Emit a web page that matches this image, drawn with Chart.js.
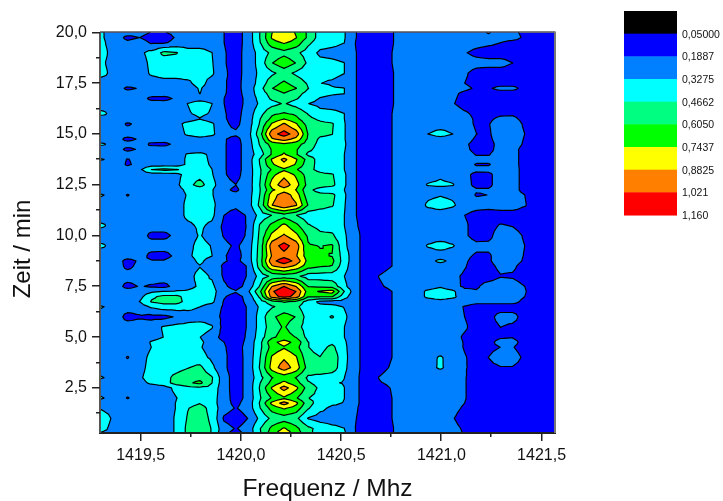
<!DOCTYPE html>
<html>
<head>
<meta charset="utf-8">
<style>
  html, body { margin: 0; padding: 0; background: #fff; }
  #wrap { width: 723px; height: 501px; }
</style>
<script src="https://cdn.jsdelivr.net/npm/chart.js@4"></script>
</head>
<body>
<div id="wrap"><canvas id="contourChart" width="723" height="501"></canvas></div>
<script>
// Frequency of each grid column (MHz)
const freqs = [1419.255,1419.315,1419.375,1419.435,1419.495,1419.555,1419.615,1419.675,1419.735,1419.795,
  1419.855,1419.915,1419.975,1420.035,1420.095,1420.155,1420.215,1420.275,1420.335,1420.395,
  1420.455,1420.515,1420.575,1420.635,1420.695,1420.755,1420.815,1420.875,1420.935,1420.995,
  1421.055,1421.115,1421.175,1421.235,1421.295,1421.355,1421.415,1421.475,1421.535,1421.595];

// Time of each grid row (min)
const times = [20,19.75,19.5,19,18.5,18,17.5,17.25,17,16.75,16.5,16,15.75,15.5,15,14.75,14.5,14.25,14,13.75,13.5,13.25,13,12.5,12.25,12,
  11.5,11,10.5,10,9.5,9,8.75,8.5,8,7.5,7.25,7,6.75,6.5,6,5.5,5,4.75,4.5,4,3.5,3,2.75,2.5,2,1.75,1.5,1,0.5,0.25];

// Estimated amplitude x 100, one line per time
const amps = [
[40,33,26,26,24,18,18,22,26,26,26,19,13,24,47,74,84,73,58,40,38,34,19,12,12,18,26,26,26,26,26,26,24,18,24,24,14,10,12,12],
[40,33,26,15,19,12,12,20,26,26,26,19,13,24,47,76,86,75,58,40,38,34,19,12,12,18,26,26,26,26,26,26,25,22,26,26,16,11,12,12],
[40,34,26,22,26,17,17,23,26,26,26,19,13,24,46,69,76,69,50,39,37,33,18,12,12,18,26,26,26,26,26,26,24,22,19,13,12,12,12,12],
[40,36,26,26,30,37,50,48,38,38,33,20,14,24,38,50,56,50,40,30,28,26,19,12,12,19,26,26,26,26,26,20,15,12,12,12,12,12,12,12],
[40,34,26,26,27,36,38,38,38,38,34,20,14,24,38,60,70,60,44,37,36,33,19,12,12,19,26,26,26,26,26,26,24,24,24,19,12,12,12,24],
[40,36,26,26,26,35,38,38,38,38,35,21,14,24,36,44,52,44,38,36,36,33,19,12,12,18,26,26,26,26,26,21,14,12,12,12,12,12,12,12],
[30,26,26,26,26,26,28,28,30,38,27,20,15,24,38,55,63,55,45,33,31,28,19,12,12,18,26,26,26,26,26,19,14,13,13,13,12,12,12,12],
[26,26,26,16,20,26,26,26,26,34,26,20,15,24,42,60,68,61,47,39,34,33,19,12,12,18,26,26,26,26,26,22,17,17,23,23,14,12,12,12],
[26,26,26,26,26,26,26,26,26,33,26,20,14,24,40,52,60,52,42,36,34,33,19,12,12,18,26,26,26,26,22,16,12,12,12,12,12,12,12,12],
[26,26,26,26,26,15,14,21,26,26,26,19,13,23,37,49,54,48,39,32,30,29,19,12,12,18,26,26,26,26,21,15,12,12,12,12,12,12,12,12],
[26,26,26,26,26,26,26,26,33,40,33,19,13,23,35,42,48,41,33,29,28,27,19,12,12,18,26,26,26,26,20,14,12,12,12,12,12,12,12,12],
[40,35,26,26,26,26,26,26,31,36,31,20,14,25,42,58,62,58,46,37,36,33,19,12,12,19,26,26,26,26,26,21,16,13,16,17,13,12,12,12],
[26,26,26,26,26,26,26,26,26,32,26,20,15,25,46,64,74,64,50,44,40,33,19,12,12,19,26,26,26,26,26,23,17,16,22,22,15,12,12,12],
[26,26,26,17,23,26,26,28,37,42,35,21,16,25,48,76,90,76,54,50,48,34,19,12,12,19,26,26,26,26,26,24,17,18,26,26,17,12,12,12],
[26,26,26,26,26,26,26,26,35,40,36,22,21,27,55,97,108,96,60,50,47,34,19,12,12,19,26,26,33,38,33,26,19,17,26,26,19,12,12,24],
[26,26,26,14,21,26,26,26,26,28,26,20,15,26,50,86,94,84,58,44,42,34,19,12,12,19,26,26,26,28,26,24,17,16,25,26,18,12,12,12],
[40,34,26,26,26,16,15,22,26,26,26,20,14,25,48,66,72,66,54,42,42,35,19,12,12,19,26,26,26,26,26,21,15,14,24,26,17,12,12,12],
[26,26,26,15,21,26,26,26,26,26,26,20,14,25,44,62,70,62,50,41,40,34,19,12,12,19,26,26,26,26,26,22,15,15,24,24,14,12,12,12],
[26,26,26,26,26,26,26,26,34,36,30,20,14,25,40,62,76,62,44,40,38,33,19,12,12,19,26,26,26,26,26,24,18,18,24,24,14,12,12,12],
[40,33,26,18,24,26,26,26,35,38,30,20,14,25,48,76,92,76,55,40,38,33,19,12,12,19,26,26,26,26,26,26,22,22,24,24,14,12,12,12],
[26,26,26,17,23,26,26,26,35,38,31,20,14,25,47,72,85,73,52,42,38,33,19,12,12,19,26,26,26,26,26,24,18,18,24,24,14,12,12,12],
[26,26,26,26,30,47,50,48,42,40,33,20,14,25,45,62,72,62,50,43,38,33,19,12,12,19,26,26,26,26,26,25,22,22,25,25,14,12,12,12],
[26,26,26,26,26,26,26,28,38,42,34,20,15,25,45,70,84,72,54,50,48,35,19,12,12,19,26,26,26,30,26,23,15,16,25,25,14,12,12,12],
[26,26,26,26,26,26,26,29,42,52,38,22,19,25,47,80,97,80,56,52,50,35,19,12,12,19,26,26,34,36,34,23,16,16,25,25,14,12,12,24],
[26,26,26,26,26,26,26,27,36,38,34,21,17,25,46,72,82,74,50,42,38,33,19,12,12,19,26,26,26,26,26,24,20,20,25,25,14,12,12,12],
[40,33,26,18,26,26,26,26,34,38,34,22,22,26,47,82,96,82,52,50,50,35,19,12,12,19,26,26,30,32,30,25,18,19,26,26,19,12,12,12],
[26,26,26,26,26,26,26,26,36,38,37,22,21,26,50,88,100,90,60,52,48,34,19,12,12,19,26,26,35,38,35,26,24,24,26,26,20,12,12,24],
[26,26,26,26,26,26,26,26,36,38,36,19,15,20,38,47,55,47,38,38,38,33,19,12,12,19,26,26,26,26,24,19,14,12,12,12,12,12,12,12],
[40,34,26,26,26,26,26,26,30,35,30,16,13,20,48,64,78,64,48,42,40,33,20,12,12,19,26,26,26,26,26,21,14,14,20,18,12,12,12,12],
[26,26,26,26,26,15,15,22,26,34,26,18,12,21,50,78,90,78,58,50,49,35,22,12,12,19,26,26,26,26,26,21,14,15,26,26,17,12,12,12],
[40,34,26,26,26,26,26,26,28,38,32,22,17,24,52,96,107,96,62,60,62,36,22,12,12,19,26,26,34,38,34,26,22,22,25,26,19,12,12,12],
[26,26,26,26,26,14,13,22,30,38,33,20,14,25,53,90,98,90,66,62,60,40,22,12,12,19,26,26,26,26,26,22,17,17,25,26,18,12,12,24],
[26,26,26,14,21,20,20,26,26,36,26,20,16,24,54,98,110,98,70,66,64,40,22,12,12,19,26,26,28,36,29,21,14,17,25,25,17,12,12,12],
[26,26,26,15,23,26,26,26,26,32,26,17,12,20,53,87,95,85,66,62,60,38,22,12,12,19,26,26,26,26,26,20,13,15,22,22,13,12,12,12],
[26,26,26,26,26,26,26,26,27,38,31,17,12,20,38,50,53,50,40,40,39,33,22,12,20,26,26,26,26,26,22,17,13,13,18,17,12,12,12,12],
[26,26,26,14,20,17,15,23,28,35,36,21,14,23,48,88,102,88,60,58,56,36,22,12,17,23,26,26,26,31,23,17,17,24,26,26,19,12,12,12],
[26,26,26,26,26,30,33,34,35,38,38,24,20,30,58,100,114,102,68,76,80,47,22,12,12,19,26,26,36,40,36,22,20,24,26,26,20,12,12,24],
[26,26,26,26,28,44,50,50,42,40,38,20,14,23,50,95,108,97,62,62,62,38,22,12,12,19,26,26,36,40,36,26,25,26,26,26,19,12,12,12],
[26,26,26,26,33,48,52,52,42,38,36,18,13,22,40,55,62,58,40,30,28,27,22,12,12,19,26,26,26,28,26,26,24,24,24,24,15,12,12,12],
[40,33,26,26,26,35,40,40,37,33,27,17,12,20,35,45,52,50,37,36,36,32,22,12,12,19,26,26,26,26,25,18,12,12,12,12,12,12,12,12],
[26,26,26,14,17,15,15,20,26,26,26,15,12,20,38,58,66,60,40,40,48,36,22,12,12,19,26,26,26,26,26,19,13,14,24,24,13,12,12,12],
[26,26,26,26,26,27,34,37,38,40,34,14,12,20,38,54,62,52,40,38,36,33,22,12,12,19,26,26,26,26,26,21,13,13,19,16,12,12,12,12],
[26,26,26,26,26,28,33,33,33,33,26,13,12,21,40,58,66,60,42,37,36,33,22,12,12,19,26,26,26,26,24,17,13,13,17,18,12,12,12,12],
[26,26,26,26,26,34,38,38,38,35,28,19,13,22,43,70,80,70,47,40,44,35,22,12,12,19,26,26,26,26,25,18,13,14,24,24,13,12,12,12],
[26,26,26,26,26,33,38,38,36,34,27,20,14,23,43,66,73,65,47,42,50,36,22,12,12,19,26,26,26,26,25,18,13,15,19,20,12,12,12,12],
[26,26,26,18,28,36,40,40,40,38,30,21,13,23,46,76,86,76,50,47,56,37,22,12,12,19,26,26,29,34,28,20,14,19,26,26,16,12,12,12],
[26,26,26,26,29,37,40,42,46,50,36,21,13,23,48,80,96,82,55,60,55,36,22,12,14,21,26,26,30,34,29,20,15,15,18,18,13,12,12,24],
[40,33,26,26,31,38,42,50,55,56,48,24,13,23,42,60,66,60,44,40,38,33,21,12,20,26,26,26,26,26,26,20,12,12,12,12,12,12,12,12],
[26,26,26,26,29,35,40,52,58,64,47,24,13,23,46,65,78,66,48,42,34,32,21,12,18,22,26,26,26,26,26,20,12,12,12,12,12,12,12,12],
[26,26,26,26,26,26,27,36,42,44,42,24,13,23,48,76,94,78,54,44,38,33,21,12,14,20,26,26,26,26,26,20,12,12,12,12,12,12,12,12],
[40,33,26,18,26,26,26,32,39,41,39,25,13,23,45,62,72,62,47,43,40,33,21,12,12,19,26,26,26,26,26,20,12,12,12,12,12,12,12,12],
[26,28,26,26,26,26,26,33,42,46,40,23,16,24,48,78,94,78,52,40,35,32,21,12,12,19,26,26,26,26,24,19,12,12,12,12,12,12,12,12],
[36,30,26,26,26,26,26,33,46,52,42,24,18,24,46,66,76,68,48,36,30,30,20,12,12,19,26,26,26,26,23,17,12,12,12,12,12,12,12,12],
[48,40,28,26,26,26,26,34,48,53,44,17,12,19,36,50,54,50,32,27,27,27,19,12,12,19,26,26,26,26,20,13,12,12,12,12,12,12,12,12],
[42,36,26,26,26,26,26,34,50,54,46,24,18,24,46,64,76,64,50,42,36,33,18,12,12,18,26,26,26,26,23,17,12,12,12,12,12,12,12,12],
[34,30,26,26,26,26,26,34,50,54,46,22,14,23,45,68,86,68,50,40,42,35,18,12,12,18,26,26,26,26,24,18,12,12,12,12,12,12,12,12]
];

// Contour levels and the colour of the band starting at each level
const levels = [0.05,0.1887,0.3275,0.4662,0.6050,0.7437,0.8825,1.021];
const bandColors = ['#0000ff','#0080ff','#00ffff','#00ff80','#00ff00','#ffff00','#ff8000','#ff0000'];

// Colour bar, top to bottom
const legendColors = ['#000000','#0000ff','#0080ff','#00ffff','#00ff80','#00ff00','#ffff00','#ff8000','#ff0000'];
const legendLabels = ['0,05000','0,1887','0,3275','0,4662','0,6050','0,7437','0,8825','1,021','1,160'];

// Axis ticks; the empty labels are the short minor ticks
const xTicks = [1419.5,1419.75,1420,1420.25,1420.5,1420.75,1421,1421.25,1421.5];
const xTickLabels = ['1419,5','','1420,0','','1420,5','','1421,0','','1421,5'];
const yTicks = [1.25,2.5,3.75,5,6.25,7.5,8.75,10,11.25,12.5,13.75,15,16.25,17.5,18.75,20];
const yTickLabels = ['','2,5','','5,0','','7,5','','10,0','','12,5','','15,0','','17,5','','20,0'];

const fontName = '"Liberation Sans", Arial, sans-serif';

// Points of triangle tri (x, y, z) on the z >= level side
function clipTriangle(tri, level) {
    const out = [];
    for (let i = 0; i < 3; i++) {
        const a = tri[i], b = tri[(i + 1) % 3];
        if (a[2] >= level) out.push(a);
        if ((a[2] >= level) !== (b[2] >= level)) {
            const t = (level - a[2]) / (b[2] - a[2]);
            out.push([a[0] + t * (b[0] - a[0]), a[1] + t * (b[1] - a[1]), level]);
        }
    }
    return out;
}

function cellTriangles(chart) {
    const xs = chart.scales.x, ys = chart.scales.y;
    const tris = [];
    for (let r = 0; r < times.length - 1; r++) {
        for (let c = 0; c < freqs.length - 1; c++) {
            const x0 = xs.getPixelForValue(freqs[c]), x1 = xs.getPixelForValue(freqs[c + 1]);
            const y0 = ys.getPixelForValue(times[r]), y1 = ys.getPixelForValue(times[r + 1]);
            const a = [x0, y0, amps[r][c] / 100], b = [x1, y0, amps[r][c + 1] / 100];
            const d = [x1, y1, amps[r + 1][c + 1] / 100], e = [x0, y1, amps[r + 1][c] / 100];
            const m = [(x0 + x1) / 2, (y0 + y1) / 2, (a[2] + b[2] + d[2] + e[2]) / 4];
            tris.push([a, b, m], [b, d, m], [d, e, m], [e, a, m]);
        }
    }
    return tris;
}

const contourPlugin = {
    id: 'contour',
    beforeDatasetsDraw(chart) {
        const { ctx, chartArea: area } = chart;
        const tris = cellTriangles(chart);
        ctx.save();
        ctx.beginPath();
        ctx.rect(area.left, area.top, area.width, area.height);
        ctx.clip();

        levels.forEach((level, i) => {
            ctx.beginPath();
            tris.forEach(tri => {
                const pts = clipTriangle(tri, level);
                if (pts.length < 3) return;
                ctx.moveTo(pts[0][0], pts[0][1]);
                for (let k = 1; k < pts.length; k++) ctx.lineTo(pts[k][0], pts[k][1]);
                ctx.closePath();
            });
            ctx.fillStyle = bandColors[i];
            ctx.fill();
        });

        // contour lines
        ctx.strokeStyle = '#000';
        ctx.lineWidth = 1.2;
        ctx.lineJoin = 'round';
        ctx.lineCap = 'round';
        levels.forEach(level => {
            ctx.beginPath();
            tris.forEach(tri => {
                const cross = [];
                for (let i = 0; i < 3; i++) {
                    const a = tri[i], b = tri[(i + 1) % 3];
                    if ((a[2] >= level) !== (b[2] >= level)) {
                        const t = (level - a[2]) / (b[2] - a[2]);
                        cross.push([a[0] + t * (b[0] - a[0]), a[1] + t * (b[1] - a[1])]);
                    }
                }
                if (cross.length === 2) {
                    ctx.moveTo(cross[0][0], cross[0][1]);
                    ctx.lineTo(cross[1][0], cross[1][1]);
                }
            });
            ctx.stroke();
        });
        ctx.restore();
    },
    afterDatasetsDraw(chart) {
        const { ctx, chartArea: area } = chart;
        ctx.save();
        // frame
        ctx.fillStyle = '#000';
        ctx.fillRect(area.left, area.top - 1, area.width, 1);
        ctx.fillStyle = '#222';
        ctx.fillRect(area.left - 1, area.bottom - 1, area.width + 2, 2);
        ctx.fillStyle = '#555';
        ctx.fillRect(area.left - 1, area.top, 2, area.height);
        ctx.fillStyle = '#777';
        ctx.fillRect(area.right - 1, area.top - 1, 2, area.height + 1);

        // tick marks, long for labelled ticks and short for the others
        ctx.fillStyle = '#222';
        xTicks.forEach((v, i) => {
            const px = Math.round(chart.scales.x.getPixelForValue(v));
            ctx.fillRect(px - 1, area.bottom, 1.5, xTickLabels[i] ? 8 : 4);
        });
        yTicks.forEach((v, i) => {
            const py = Math.round(chart.scales.y.getPixelForValue(v));
            const len = yTickLabels[i] ? 8 : 4;
            ctx.fillRect(area.left - len, py - 1, len, 1.5);
        });

        // y title sits below the middle of the axis in the original
        ctx.save();
        ctx.translate(23, 249);
        ctx.rotate(-Math.PI / 2);
        ctx.fillStyle = '#111';
        ctx.font = '24px ' + fontName;
        ctx.textAlign = 'center';
        ctx.textBaseline = 'middle';
        ctx.fillText('Zeit / min', 0, 0);
        ctx.restore();

        // colour bar
        const barLeft = 624, barTop = 11, barWidth = 53, step = 22.67;
        legendColors.forEach((col, i) => {
            ctx.fillStyle = col;
            ctx.fillRect(barLeft, barTop + i * step, barWidth, step + 0.5);
        });
        ctx.fillStyle = '#111';
        ctx.font = '10.5px ' + fontName;
        ctx.textAlign = 'left';
        ctx.textBaseline = 'middle';
        legendLabels.forEach((txt, i) => {
            ctx.fillText(txt, 682, barTop + (i + 1) * step + 1);
        });
        ctx.restore();
    }
};

new Chart(document.getElementById('contourChart'), {
    type: 'scatter',
    data: {
        datasets: [{
            data: times.flatMap(t => freqs.map(f => ({ x: f, y: t }))),
            pointRadius: 0,
            showLine: false
        }]
    },
    options: {
        responsive: false,
        animation: false,
        layout: { padding: { top: 32.5, right: 168, left: 0, bottom: 0 } },
        plugins: { legend: { display: false }, tooltip: { enabled: false } },
        scales: {
            x: {
                type: 'linear',
                min: 1419.297,
                max: 1421.567,
                afterFit: s => { s.height = 68; },
                afterBuildTicks: s => { s.ticks = xTicks.map(v => ({ value: v })); },
                grid: { display: false },
                border: { display: false },
                ticks: {
                    autoSkip: false,
                    maxRotation: 0,
                    padding: 5,
                    color: '#111',
                    font: { family: fontName, size: 16 },
                    callback: v => xTickLabels[xTicks.indexOf(v)]
                },
                title: {
                    display: true,
                    text: 'Frequenz / Mhz',
                    color: '#111',
                    padding: { top: 0, bottom: -3 },
                    font: { family: fontName, size: 24.5 }
                }
            },
            y: {
                type: 'linear',
                min: 0.28,
                max: 20,
                afterFit: s => { s.width = 100; },
                afterBuildTicks: s => { s.ticks = yTicks.map(v => ({ value: v })); },
                grid: { display: false },
                border: { display: false },
                ticks: {
                    autoSkip: false,
                    padding: 5,
                    color: '#111',
                    font: { family: fontName, size: 16 },
                    callback: v => yTickLabels[yTicks.indexOf(v)]
                }
            }
        }
    },
    plugins: [contourPlugin]
});
</script>
</body>
</html>
